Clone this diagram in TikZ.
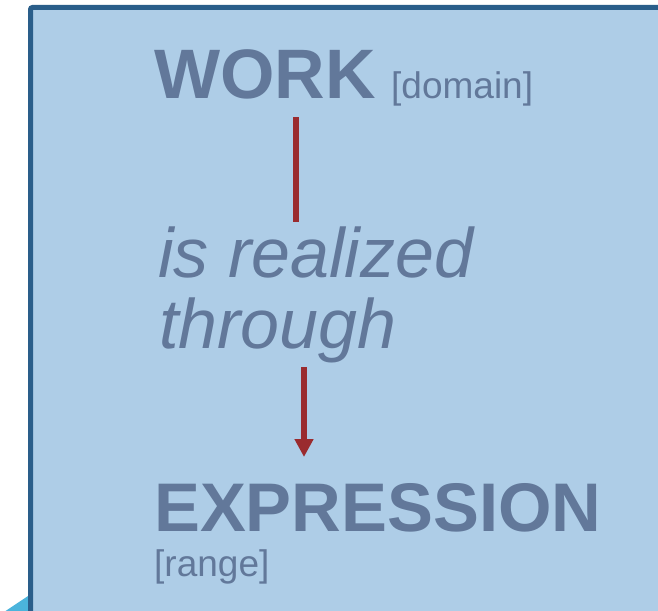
\documentclass[tikz,border=0pt]{standalone}
\usepackage{fontspec}
\setmainfont{Liberation Sans}
\usetikzlibrary{arrows.meta}
\definecolor{panelfill}{HTML}{AECDE7}
\definecolor{panelrule}{HTML}{2A5E8A}
\definecolor{panelink}{HTML}{62789A}
\definecolor{linkred}{HTML}{9A2B2F}
\definecolor{cornercyan}{HTML}{4BB4DC}

\begin{document}
\begin{tikzpicture}[
  x=1pt,
  y=-1pt,
  every node/.style={panelink, inner sep=0pt, anchor=base west},
  entity/.style={font=\fontsize{70}{71}\selectfont\bfseries},
  role/.style={font=\fontsize{37}{40}\selectfont},
  relation/.style={font=\fontsize{70}{71}\selectfont\itshape},
  panel/.style={fill=panelfill, draw=panelrule, line width=5pt, rounded corners=2pt},
  link/.style={linkred, line width=6pt},
  linkarrow/.style={link, -{Triangle[width=18pt, length=18pt]}}
]
  % ---- page, with the panel running off at the right and bottom -------
  \useasboundingbox (0,0) rectangle (658,610);
  \clip (0,0) rectangle (658,610);
  \fill[cornercyan] (28,596) -- (28,612) -- (4,612) -- cycle;
  \draw[panel] (30.5,640) -- (30.5,7.5) -- (690,7.5) -- (690,640) -- cycle;

  % ---- domain ----------------------------------------------------------
  \node[entity] (work) at (154,98) {WORK};
  \node[role] (domain) at (391,98) {[domain]};

  % ---- relation --------------------------------------------------------
  \node[relation] (isrealized) at (158,277) {is realized};
  \node[relation] (through) at (159,348) {through};

  % ---- range -----------------------------------------------------------
  \node[entity, font=\fontsize{68.8}{71}\selectfont\bfseries]
    (expression) at (154,531) {EXPRESSION};
  \node[role] (range) at (154,576.5) {[range]};

  % ---- connectors ------------------------------------------------------
  \coordinate (workfoot) at (295.5,117);
  \coordinate (realizedhead) at (295.5,222);
  \coordinate (throughfoot) at (304,367);
  \coordinate (expressionhead) at (304,457);
  \draw[link] (workfoot) -- (realizedhead);
  \draw[linkarrow] (throughfoot) -- (expressionhead);

\end{tikzpicture}
\end{document}
